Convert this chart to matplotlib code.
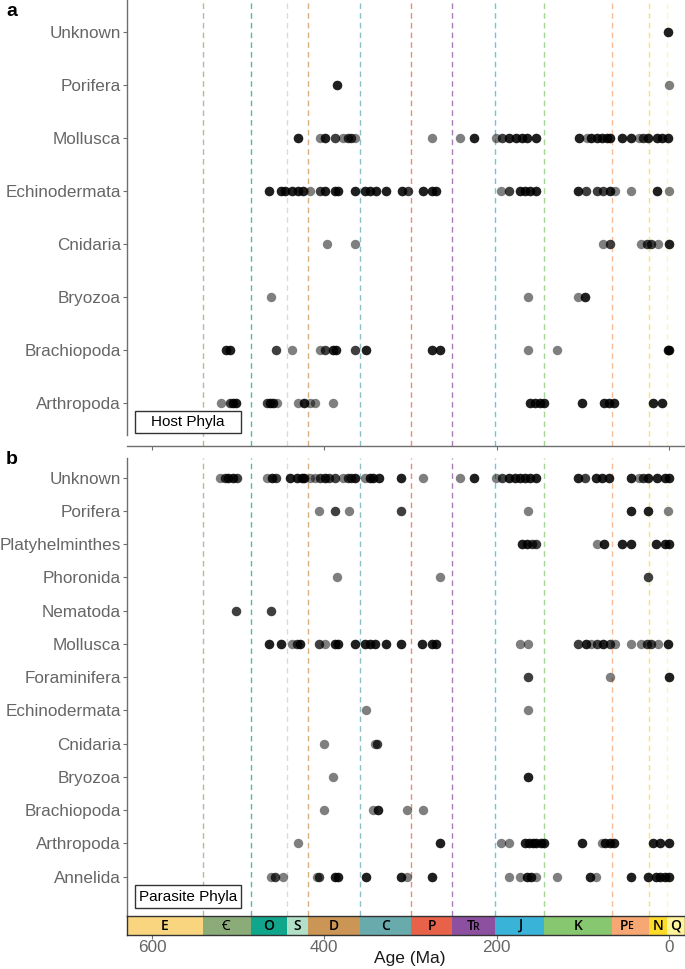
import matplotlib
matplotlib.use("Agg")
import matplotlib.pyplot as plt
from matplotlib.patches import Rectangle
import numpy as np

plt.rcParams['font.family'] = ['Liberation Sans', 'DejaVu Sans']

# geologic periods (Ma)
period_abbr = ['E', 'Ꞓ', 'O', 'S', 'D', 'C', 'P', 'TR', 'J', 'K', 'PE', 'N', 'Q']
period_start = [635, 541, 485.4, 443.8, 419.2, 358.9, 298.9, 251.9, 201.4, 145, 66, 23.03, 2.58]
period_end = [541, 485.4, 443.8, 419.2, 358.9, 298.9, 251.9, 201.4, 145, 66, 23.03, 2.58, 0]
period_color = ['#F9D580', '#8BAB78', '#10A68C', '#B1DFC8', '#CB9555', '#69AAAD', '#E8624A',
                '#8D4F9F', '#3AB3D8', '#87C770', '#F6A773', '#FDDB2A', '#FFF39E']

# ---- host phyla (panel a), bottom to top; ages in Ma, n = overlapping occurrences
host_phyla = ['Arthropoda', 'Brachiopoda', 'Bryozoa', 'Cnidaria', 'Echinodermata',
              'Mollusca', 'Porifera', 'Unknown']
host_arthropoda = [520, 510, 506, 502, 467, 463, 459, 455, 430, 424, 417, 411, 390,
                   161, 156, 150, 145, 101, 75, 70, 64, 19, 8.5]
host_arthropoda_n = [1, 2, 3, 3, 2, 3, 3, 1, 1, 3, 1, 1, 1, 3, 3, 3, 3, 3, 3, 3, 3, 3, 3]
host_brachiopoda = [514, 510, 456, 438, 405, 399, 390, 386, 364, 352, 275, 266, 164, 130, 1.5, 0.3]
host_brachiopoda_n = [3, 3, 2, 1, 1, 2, 3, 3, 2, 3, 3, 3, 1, 1, 3, 3]
host_bryozoa = [462, 164, 106, 97]
host_bryozoa_n = [1, 1, 1, 3]
host_cnidaria = [397, 364, 77, 68, 32, 26, 21, 13, 0.5]
host_cnidaria_n = [1, 1, 1, 2, 1, 2, 2, 1, 3]
host_echinodermata = [464, 450, 446, 438, 430, 425, 417, 405, 399, 388, 384,
                      364, 353, 347, 340, 328, 310, 303, 286, 275, 270,
                      195, 186, 173, 167, 161, 154,
                      106, 96, 84, 76, 69, 63, 44, 14, 0.5]
host_echinodermata_n = [3, 3, 3, 3, 3, 3, 1, 2, 3, 3, 3,
                        3, 3, 3, 3, 3, 3, 2, 3, 3, 3,
                        1, 2, 3, 3, 3, 3,
                        3, 2, 2, 2, 3, 1, 1, 3, 1]
host_mollusca = [430, 405, 399, 388, 378, 373, 369, 364, 275, 242, 226,
                 201, 194, 186, 177, 171, 165, 154,
                 105, 95, 90, 84, 78, 72, 68, 54, 44, 35, 30, 24, 14, 8, 1]
host_mollusca_n = [3, 1, 3, 2, 1, 2, 2, 1, 1, 1, 3,
                   1, 2, 3, 3, 3, 3, 3,
                   3, 1, 3, 3, 3, 3, 3, 3, 3, 1, 2, 3, 3, 3, 3]
host_porifera = [385, 0.5]
host_porifera_n = [3, 1]
host_unknown = [1]
host_unknown_n = [3]

# ---- parasite phyla (panel b), bottom to top
para_phyla = ['Annelida', 'Arthropoda', 'Brachiopoda', 'Bryozoa', 'Cnidaria', 'Echinodermata',
              'Foraminifera', 'Mollusca', 'Nematoda', 'Phoronida', 'Platyhelminthes',
              'Porifera', 'Unknown']
para_annelida = [462, 457, 448, 408, 406, 388, 384, 352, 311, 304, 275,
                 186, 173, 165, 160, 154, 130, 92, 85, 44, 24, 15, 10, 5, 0.5]
para_annelida_n = [1, 2, 1, 1, 2, 3, 3, 3, 3, 1, 3,
                   1, 1, 3, 3, 1, 1, 3, 1, 3, 3, 3, 3, 3, 3]
para_arthropoda = [430, 266, 195, 186, 167, 163, 158, 154, 148, 145, 101, 78, 74, 69, 64, 19, 10, 0.5]
para_arthropoda_n = [1, 3, 1, 1, 3, 3, 3, 3, 3, 3, 3, 1, 3, 3, 3, 3, 3, 3]
para_brachiopoda = [400, 344, 338, 304, 285]
para_brachiopoda_n = [1, 1, 3, 1, 1]
para_bryozoa = [390, 164]
para_bryozoa_n = [1, 3]
para_cnidaria = [400, 341, 339]
para_cnidaria_n = [1, 1, 2]
para_echinodermata = [352, 164]
para_echinodermata_n = [1, 1]
para_foraminifera = [164, 68, 0.5]
para_foraminifera_n = [2, 1, 3]
para_mollusca = [464, 450, 438, 432, 428, 406, 399, 388, 384,
                 364, 353, 347, 341, 328, 311, 287, 275, 270,
                 173, 164, 106, 96, 91, 83, 77, 69, 63, 44, 32, 25, 21, 13, 0.8]
para_mollusca_n = [3, 3, 1, 2, 3, 2, 1, 3, 3,
                   3, 3, 3, 3, 3, 3, 3, 3, 3,
                   1, 1, 2, 3, 1, 2, 3, 2, 1, 1, 1, 2, 2, 1, 3]
para_nematoda = [502, 462]
para_nematoda_n = [2, 2]
para_phoronida = [385, 266, 24]
para_phoronida_n = [1, 1, 2]
para_platyhelminthes = [171, 165, 159, 154, 84, 75, 54, 44, 15, 5, 0.5]
para_platyhelminthes_n = [3, 3, 2, 2, 1, 3, 3, 3, 3, 3, 3]
para_porifera = [406, 388, 371, 311, 164, 44, 24, 0.8]
para_porifera_n = [1, 2, 1, 2, 1, 3, 3, 1]
para_unknown = [521, 515, 512, 506, 501, 467, 461, 456,
                440, 432, 426, 423, 417, 411, 405, 399, 394, 388, 378, 373, 369, 364,
                353, 347, 343, 337, 311, 286, 242, 226,
                201, 194, 186, 179, 173, 167, 161, 154,
                106, 97, 85, 78, 70, 44, 35, 30, 24, 14, 5, 0.5]
para_unknown_n = [1, 2, 3, 3, 2, 1, 3, 2,
                  3, 3, 3, 3, 1, 1, 2, 3, 2, 2, 1, 2, 2, 3,
                  1, 3, 3, 3, 3, 1, 1, 3,
                  1, 2, 3, 3, 3, 3, 3, 3,
                  3, 2, 3, 3, 3, 3, 1, 2, 3, 3, 3, 3]

host_rows = [(host_arthropoda, host_arthropoda_n), (host_brachiopoda, host_brachiopoda_n),
             (host_bryozoa, host_bryozoa_n), (host_cnidaria, host_cnidaria_n),
             (host_echinodermata, host_echinodermata_n), (host_mollusca, host_mollusca_n),
             (host_porifera, host_porifera_n), (host_unknown, host_unknown_n)]
para_rows = [(para_annelida, para_annelida_n), (para_arthropoda, para_arthropoda_n),
             (para_brachiopoda, para_brachiopoda_n), (para_bryozoa, para_bryozoa_n),
             (para_cnidaria, para_cnidaria_n), (para_echinodermata, para_echinodermata_n),
             (para_foraminifera, para_foraminifera_n), (para_mollusca, para_mollusca_n),
             (para_nematoda, para_nematoda_n), (para_phoronida, para_phoronida_n),
             (para_platyhelminthes, para_platyhelminthes_n), (para_porifera, para_porifera_n),
             (para_unknown, para_unknown_n)]

XLIM = (629, -18.6)
axis_grey = '#6E6E6E'
text_grey = '#666666'

fig = plt.figure(figsize=(6.85, 9.69), dpi=100)
W, H = 685, 969


def px_box(l, t, r, b):
    return [l / W, 1 - b / H, (r - l) / W, (b - t) / H]


ax_a = fig.add_axes(px_box(127, 0, 685, 446))
ax_b = fig.add_axes(px_box(127, 458, 685, 916))
ax_t = fig.add_axes(px_box(127, 916, 685, 935))


def draw_panel(ax, rows, names, ylim, label, box_y):
    for i, (ages, n) in enumerate(rows):
        x = np.repeat(ages, n)
        ax.scatter(x, np.full(len(x), i + 1), s=46, c='black', alpha=0.5,
                   linewidths=0, zorder=3)
    for start, col in zip(period_start[1:], period_color[1:]):
        ax.axvline(start, color=col, lw=1.0, ls=(0, (4, 3)), alpha=0.75, zorder=1)
    ax.set_xlim(*XLIM)
    ax.set_ylim(*ylim)
    ax.set_yticks(range(1, len(names) + 1))
    ax.set_yticklabels(names, fontsize=12.3, color=text_grey)
    ax.tick_params(axis='y', length=3, width=0.8, color=axis_grey, pad=1.5)
    for s in ['top', 'right']:
        ax.spines[s].set_visible(False)
    ax.spines['left'].set_color(axis_grey)
    ax.spines['left'].set_linewidth(1.0)
    # label box
    ax.add_patch(Rectangle((497, box_y[0]), 123, box_y[1] - box_y[0], facecolor='white',
                           edgecolor='#333333', lw=1.0, zorder=4))
    ax.text(558.5, (box_y[0] + box_y[1]) / 2, label, ha='center', va='center',
            fontsize=11, color='black', zorder=5)


draw_panel(ax_a, host_rows, host_phyla, (0.183, 8.6), 'Host Phyla', (0.42, 0.85))
ax_a.spines['left'].set_bounds(0.4, 8.6)
ax_a.spines['bottom'].set_color(axis_grey)
ax_a.spines['bottom'].set_linewidth(1.0)
ax_a.set_xticks([600, 400, 200, 0])
ax_a.set_xticklabels([])
ax_a.tick_params(axis='x', length=3, width=0.8, color=axis_grey)

draw_panel(ax_b, para_rows, para_phyla, (-0.18, 13.59), 'Parasite Phyla', (0.06, 0.75))
ax_b.spines['bottom'].set_visible(False)
ax_b.set_xticks([])

# time scale bar
fam = ['Open Sans', 'Noto Sans', 'DejaVu Sans']
for start, end, col, ab in zip(period_start, period_end, period_color, period_abbr):
    left = min(start, XLIM[0])
    right = XLIM[1] if end == 0 else end
    ax_t.axvspan(left, right, color=col, lw=0)
    mid = (left + right) / 2
    if ab == 'TR':
        ax_t.annotate('T', (mid, 0.5), xytext=(-2, 0), textcoords='offset points',
                      ha='center', va='center', fontsize=10, fontweight='semibold', family=fam)
        ax_t.annotate('R', (mid, 0.42), xytext=(2, 0), textcoords='offset points',
                      ha='center', va='center', fontsize=7.5, fontweight='semibold', family=fam)
    elif ab == 'PE':
        ax_t.annotate('P', (mid, 0.5), xytext=(-5, 0), textcoords='offset points',
                      ha='center', va='center', fontsize=10, fontweight='semibold', family=fam)
        ax_t.annotate('E', (mid, 0.45), xytext=(0, 0), textcoords='offset points',
                      ha='center', va='center', fontsize=7.5, fontweight='semibold', family=fam)
    else:
        ax_t.text(mid, 0.5, ab, ha='center', va='center', fontsize=10,
                  fontweight='semibold', family=fam)
ax_t.set_xlim(*XLIM)
ax_t.set_ylim(0, 1)
ax_t.set_yticks([])
ax_t.set_xticks([600, 400, 200, 0])
ax_t.set_xticklabels(['600', '400', '200', '0'], fontsize=12.3, color=text_grey)
ax_t.tick_params(axis='x', length=3, width=0.8, color=axis_grey, pad=0.5)
for s in ax_t.spines.values():
    s.set_color('#333333')
    s.set_linewidth(1.0)

fig.text(410 / W, 1 - 959 / H, 'Age (Ma)', fontsize=12.5, color='#1A1A1A',
         ha='center', va='center')
fig.text(6 / W, 1 - 3 / H, 'a', fontsize=14, fontweight='bold', va='top', ha='left')
fig.text(6 / W, 1 - 451 / H, 'b', fontsize=14, fontweight='bold', va='top', ha='left')

fig.savefig('out.png', dpi=100)
